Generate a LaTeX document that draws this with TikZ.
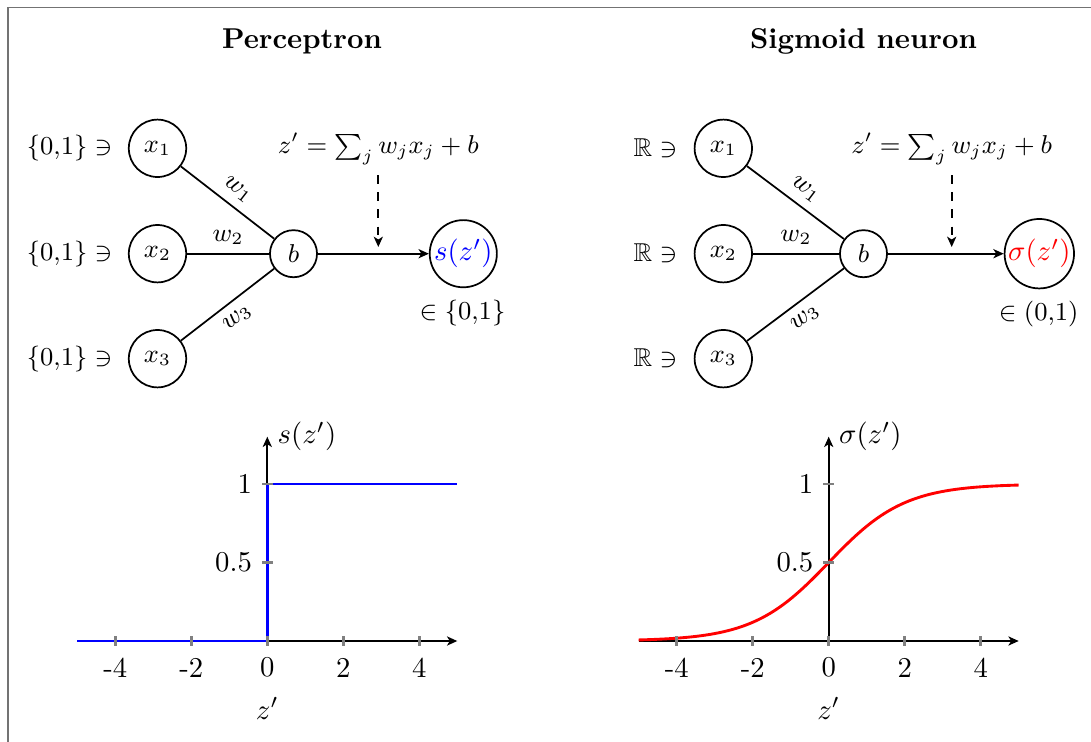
\documentclass[tikz,border=0pt]{standalone}
\usepackage{amssymb}
\usetikzlibrary{arrows.meta}
\begin{document}
\begin{tikzpicture}[x=0.3484pt,y=-0.3484pt,
  neuron/.style={draw,circle,line width=0.6pt,inner sep=0pt,minimum size=20pt,font=\small},
  biasn/.style={draw,circle,line width=0.6pt,inner sep=0pt,minimum size=16.4pt,font=\small},
  outn/.style={draw,circle,line width=0.6pt,inner sep=0pt,minimum size=23.4pt},
  netlbl/.style={font=\small},
  conn/.style={line width=0.6pt},
  arr/.style={line width=0.6pt,-{Stealth[length=3.6pt,width=3.2pt,inset=1pt]}},
  darr/.style={line width=0.6pt,dashed,-{Stealth[length=3.6pt,width=3.2pt,inset=1pt]}},
  axisline/.style={line width=0.6pt,-{Stealth[length=3.6pt,width=3.2pt,inset=1pt]}},
  tickmark/.style={line width=1pt,black!50},
  setlbl/.style={anchor=east,inner sep=0pt,font=\small},
  wlbl/.style={midway,sloped,inner sep=3pt,font=\small}]
\clip (0,0) rectangle (1091,742);
\fill[white] (0,0) rectangle (1091,742);
\draw[line width=0.6pt,black!55] (8.3,800) |- (1200,7.6);

% titles
\node[anchor=base,font=\bfseries] (t1) at (302,48) {Perceptron};
\node[anchor=base,font=\bfseries] (t2) at (863.5,48) {Sigmoid neuron};

% ---------- Perceptron network ----------
\node[neuron] (px1) at (157.5,148.3) {$x_1$};
\node[neuron] (px2) at (157.5,253.7) {$x_2$};
\node[neuron] (px3) at (157.5,358.7) {$x_3$};
\node[biasn] (pb) at (293.5,253.7) {$b$};
\node[outn] (ps) at (463.3,253.7) {\color{blue}$s(z')$};
\node[setlbl] (pl1) at (113,148.3) {$\{0{,}1\}\ni$};
\node[setlbl] (pl2) at (113,253.7) {$\{0{,}1\}\ni$};
\node[setlbl] (pl3) at (113,358.7) {$\{0{,}1\}\ni$};
\node[netlbl] (pout) at (462.5,313) {$\in\{0{,}1\}$};
\node[netlbl,anchor=base] (peq) at (378.3,153.5) {$z'=\sum_j w_jx_j+b$};
\draw[conn] (px1) -- node[wlbl,above] {$w_1$} (pb);
\draw[conn] (px2) -- node[wlbl,above] {$w_2$} (pb);
\draw[conn] (px3) -- node[wlbl,below] {$w_3$} (pb);
\draw[arr] (pb) -- (ps);
\coordinate (pda) at (378.3,175);
\coordinate (pdb) at (378.3,247);
\draw[darr] (pda) -- (pdb);

% ---------- Sigmoid network ----------
\node[neuron] (sx1) at (723.3,148.3) {$x_1$};
\node[neuron] (sx2) at (723.3,253.7) {$x_2$};
\node[neuron] (sx3) at (723.3,358.7) {$x_3$};
\node[biasn] (sb) at (863.5,253.7) {$b$};
\node[outn,minimum size=24.2pt] (ss) at (1039.3,253.7) {\color{red}$\sigma(z')$};
\node[setlbl] (sl1) at (678,148.3) {$\mathbb{R}\ni$};
\node[setlbl] (sl2) at (678,253.7) {$\mathbb{R}\ni$};
\node[setlbl] (sl3) at (678,358.7) {$\mathbb{R}\ni$};
\node[netlbl] (sout) at (1038.7,314) {$\in(0{,}1)$};
\node[netlbl,anchor=base] (seq) at (951.7,153.5) {$z'=\sum_j w_jx_j+b$};
\draw[conn] (sx1) -- node[wlbl,above] {$w_1$} (sb);
\draw[conn] (sx2) -- node[wlbl,above] {$w_2$} (sb);
\draw[conn] (sx3) -- node[wlbl,below] {$w_3$} (sb);
\draw[arr] (sb) -- (ss);
\coordinate (sda) at (951.7,175);
\coordinate (sdb) at (951.7,247);
\draw[darr] (sda) -- (sdb);

% ---------- Step plot ----------
\coordinate (pxa) at (77.3,641);
\coordinate (pxb) at (457.3,641);
\coordinate (pya) at (267.3,641);
\coordinate (pyb) at (267.3,436.7);
\draw[axisline] (pxa) -- (pxb);
\draw[axisline] (pya) -- (pyb) node[right,inner sep=3.33pt] (pylab) {$s(z')$};
\draw[blue,line width=1pt] (77.3,641) -- (267.3,641) -- (267.3,484) -- (457.3,484);
\foreach \t/\l in {-4/-4,-2/-2,0/0,2/2,4/4}{
  \draw[tickmark] ({267.3+38*\t},636) -- ({267.3+38*\t},646);
  \node (ptx\l) at ({267.3+38*\t},667.5) {\l};
}
\draw[tickmark] (262,484) -- (272.6,484);
\draw[tickmark] (262,562.5) -- (272.6,562.5);
\node[left] (pty1) at (262,484) {1};
\node[left] (pty5) at (262,562.5) {0.5};
\node (pxlab) at (267.3,708.5) {$z'$};

% ---------- Sigmoid plot ----------
\coordinate (sxa) at (638.7,641);
\coordinate (sxb) at (1018.7,641);
\coordinate (sya) at (828.7,641);
\coordinate (syb) at (828.7,436.7);
\draw[axisline] (sxa) -- (sxb);
\draw[axisline] (sya) -- (syb) node[right,inner sep=3.33pt] (sylab) {$\sigma(z')$};
\draw[red,line width=1pt] plot[domain=-5:5,samples=120,smooth] ({828.7+38*\x},{641-157/(1+exp(-\x))});
\foreach \t/\l in {-4/-4,-2/-2,0/0,2/2,4/4}{
  \draw[tickmark] ({828.7+38*\t},636) -- ({828.7+38*\t},646);
  \node (stx\l) at ({828.7+38*\t},667.5) {\l};
}
\draw[tickmark] (823.4,484) -- (834,484);
\draw[tickmark] (823.4,562.5) -- (834,562.5);
\node[left] (sty1) at (823.4,484) {1};
\node[left] (sty5) at (823.4,562.5) {0.5};
\node (sxlab) at (828.7,708.5) {$z'$};
\end{tikzpicture}
\end{document}
